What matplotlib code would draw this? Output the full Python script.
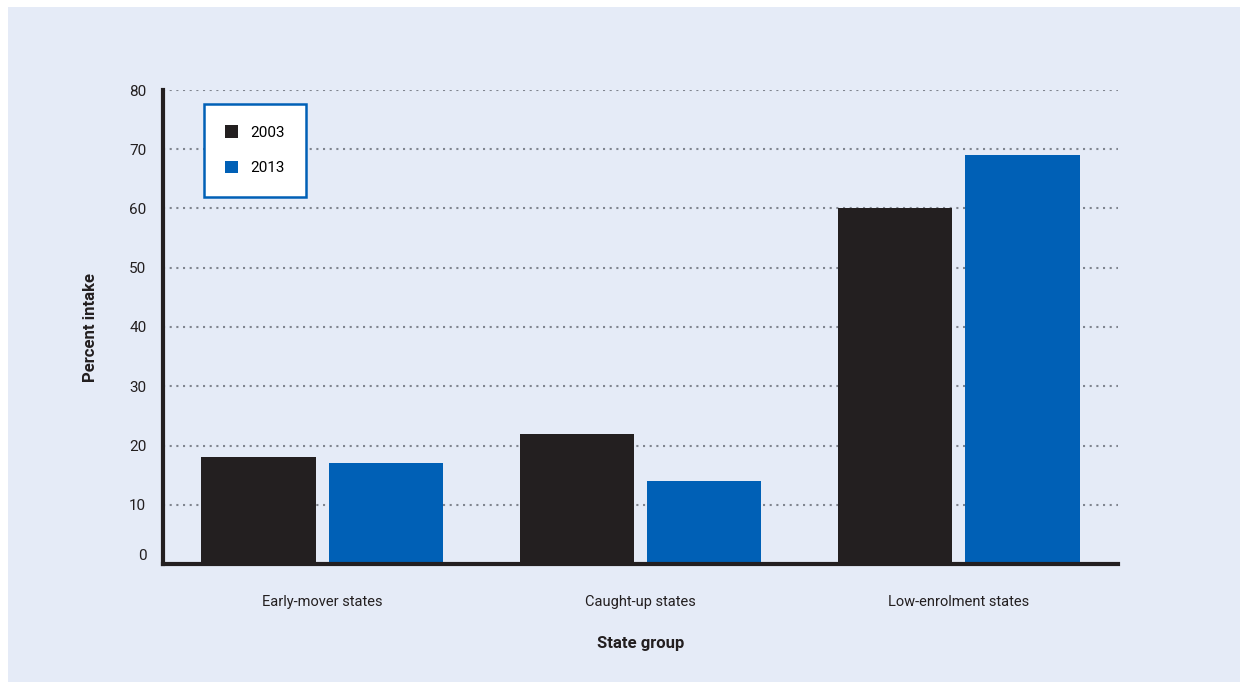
import matplotlib
matplotlib.use("Agg")
import matplotlib.pyplot as plt
import matplotlib.transforms as mtransforms
from matplotlib.patches import Rectangle
import numpy as np

categories = ["Early-mover states", "Caught-up states", "Low-enrolment states"]
series_names = ["2003", "2013"]
values_2003 = [18, 22, 60]
values_2013 = [17, 14, 69]
yticks = [0, 10, 20, 30, 40, 50, 60, 70, 80]

plt.rcParams['font.family'] = ['Roboto', 'DejaVu Sans']

W, H = 1248, 690
fig = plt.figure(figsize=(W/100, H/100), dpi=100)
fig.patch.set_facecolor('white')
fig.patches.append(Rectangle((8/W, 1 - 682/H), (1240-8)/W, (682-7)/H,
                             transform=fig.transFigure, facecolor='#E5EBF7',
                             edgecolor='none', zorder=-10))

ax = fig.add_axes([163/W, 1 - 564/H, (1118-163)/W, (564-90)/H])
ax.set_facecolor('none')

x = np.arange(len(categories))
bw = 0.36
c_dark = '#231F20'
c_blue = '#0060B6'
ax.bar(x - 0.2, values_2003, width=bw, color=c_dark, label=series_names[0], zorder=3)
ax.bar(x + 0.2, values_2013, width=bw, color=c_blue, label=series_names[1], zorder=3)

ax.set_xlim(-0.5, 2.5)
ax.set_ylim(0, 80)
ax.set_yticks(yticks)
ax.set_yticklabels([str(v) for v in yticks])
ax.set_xticks(x)
ax.set_xticklabels(categories)

for t in yticks[1:]:
    ax.axhline(t, color='#80858F', linestyle=(0, (1, 2.2)), linewidth=1.5, zorder=1)

for s in ['top', 'right']:
    ax.spines[s].set_visible(False)
for s in ['left', 'bottom']:
    ax.spines[s].set_color(c_dark)
    ax.spines[s].set_linewidth(3)
    ax.spines[s].set_zorder(4)

ax.tick_params(axis='y', length=0, pad=12, labelsize=11, colors=c_dark)
ax.tick_params(axis='x', length=0, pad=22, labelsize=10.5, colors=c_dark)

# shift the "0" label upward as in the reference
lbl0 = ax.get_yticklabels()[0]
lbl0.set_transform(lbl0.get_transform() + mtransforms.ScaledTranslation(0, 10/100, fig.dpi_scale_trans))

ax.set_ylabel("Percent intake", fontsize=12, fontweight='bold', color=c_dark, labelpad=22)
ax.set_xlabel("State group", fontsize=12, fontweight='bold', color=c_dark, labelpad=20)

leg = ax.legend(loc='upper left', bbox_to_anchor=((204-163)/(1118-163), 1 - (104-90)/(564-90)),
                frameon=True, fancybox=False, fontsize=11, handlelength=0.8, handleheight=0.9,
                handletextpad=0.8, borderpad=1.4, labelspacing=1.35, borderaxespad=0)
leg.get_frame().set_edgecolor(c_blue)
leg.get_frame().set_linewidth(1.8)
leg.get_frame().set_facecolor('white')
leg.get_frame().set_alpha(1)
leg.set_zorder(5)

fig.savefig("out.png", dpi=100)
